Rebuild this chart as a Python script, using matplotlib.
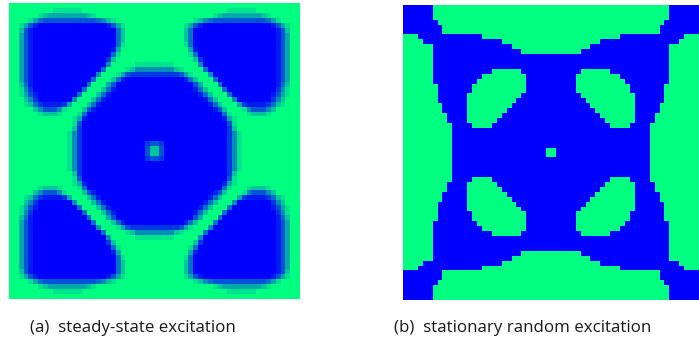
import numpy as np
import matplotlib
matplotlib.use("Agg")
import matplotlib.pyplot as plt
from matplotlib.colors import LinearSegmentedColormap

# Top-left quarter (30x30) of the density field, run-length coded:
# "v*n" = n cells of level v, 0 = void (green) ... 9 = solid (blue)
quarter_a = [
    "0*30",
    "0*9 1*6 0*15",
    "0*6 1 2 3*8 2 1 0*12",
    "0*4 1 3 5 6*11 5 4 2 1 0*8",
    "0*2 1 3 6 8 9*14 8 6 3 1 0*6",
    "0*2 2 6 8 9*17 5 2 0*6",
    "0*2 3 6 8 9*17 5 2 0*6",
    "0*2 3 6 8 9*17 5 2 0*6",
    "0*2 3 6 8 9*17 5 1 0*6",
    "0*2 3 6 8 9*16 8 3 0*7",
    "0*2 3 6 8 9*16 5 1 0*7",
    "0*2 3 6 8 9*15 7 2 0*8",
    "0*2 3 6 8 9*15 4 0*5 1*4",
    "0*2 3 6 8 9*14 5 0*4 1 2 4*4",
    "0*2 3 6 8 9*13 4 0*3 1 3 6 7*5",
    "0*2 3 6 8 9*12 5 0*3 2 5 8 9*6",
    "0*2 2 5 8 9*11 5 0*3 3 6 9*8",
    "0*2 1 4 7 9*10 5 0*3 2 5 8 9*8",
    "0*2 1 3 6 8 9*8 5 0*3 2 5 8 9*9",
    "0*3 2 4 7 9*7 4 0*3 2 5 8 9*10",
    "0*3 1 2 5 7 8*4 7 3 0*3 2 5 8 9*11",
    "0*5 2 4 6*3 4 1 0*3 2 6 8 9*12",
    "0*6 1 2*3 1 0*3 1 5 9*14",
    "0*13 1 3 8 9*14",
    "0*13 1 6 9*15",
    "0*13 2 7 9*15",
    "0*12 1 4 7 9*15",
    "0*12 1 4 7 9*15",
    "0*12 1 4 7 9*13 7 6",
    "0*12 1 4 7 9*13 6 2",
]

# Top-left quarter of the 0/1 design, '#' = solid (blue), '.' = void (green)
quarter_b = [
    "######........................",
    "######........................",
    "######........................",
    "#######.......................",
    "########......................",
    "########......................",
    "...#############..............",
    "....################..........",
    "......################........",
    "......##################......",
    "......########################",
    "......########################",
    "......########################",
    "......############......######",
    "......##########.........#####",
    "......#########..........#####",
    ".......#######...........#####",
    ".......#######...........#####",
    ".......######...........######",
    ".......######..........#######",
    "........#####.........########",
    "........#####........#########",
    ".........####.......##########",
    ".........####......###########",
    "..........####....############",
    "..........####################",
    "..........####################",
    "..........####################",
    "..........####################",
    "..........###################.",
]

captions = ["(a)  steady-state excitation", "(b)  stationary random excitation"]


def decode(row):
    out = []
    for tok in row.split():
        if "*" in tok:
            v, n = tok.split("*")
            out += [int(v)] * int(n)
        else:
            out.append(int(tok))
    return out


qa_rows = [decode(r) for r in quarter_a]
for i, r in enumerate(qa_rows):
    assert len(r) == 30, ("a", i, len(r))
for i, r in enumerate(quarter_b):
    assert len(r) == 30, ("b", i, len(r))


def full_field(q):
    top = np.hstack([q, q[:, ::-1]])
    return np.vstack([top, top[::-1]])


qa = np.array(qa_rows, dtype=float) / 9.0
qb = np.array([[1.0 if ch == "#" else 0.0 for ch in row] for row in quarter_b])
A = full_field(qa)
B = full_field(qb)

cmap = LinearSegmentedColormap.from_list("gb", ["#00FF80", "#0000FF"])

W, H = 699, 338
fig = plt.figure(figsize=(W / 100, H / 100), dpi=100)
fig.patch.set_facecolor("white")


def add_ax(x0, y0, x1, y1):
    return fig.add_axes([x0 / W, 1 - y1 / H, (x1 - x0) / W, (y1 - y0) / H])


axa = add_ax(9, 3.3, 300, 299)
axa.imshow(A, cmap=cmap, vmin=0, vmax=1, interpolation="nearest", aspect="auto")
axa.set_axis_off()

axb = add_ax(403.3, 5, 699.3, 300)
axb.imshow(B, cmap=cmap, vmin=0, vmax=1, interpolation="nearest", aspect="auto")
axb.set_axis_off()

fig.text(30 / W, 1 - 331.5 / H, captions[0], fontsize=12.15, family=["Open Sans", "DejaVu Sans"],
         color="#1a1a1a", ha="left", va="baseline")
fig.text(394 / W, 1 - 331.5 / H, captions[1], fontsize=12.15, family=["Open Sans", "DejaVu Sans"],
         color="#1a1a1a", ha="left", va="baseline")

fig.savefig("out.png", dpi=100)
